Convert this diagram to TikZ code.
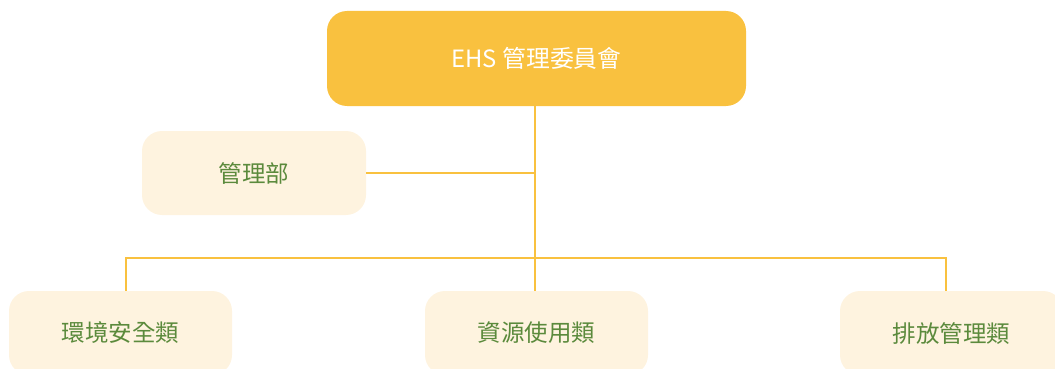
\documentclass[tikz,border=0pt]{standalone}
\usepackage{fontspec}
\setmainfont{Noto Sans CJK TC}
\usepackage{xcolor}
\definecolor{ehsgold}{HTML}{F9C13F}
\definecolor{ehscream}{HTML}{FEF3DF}
\definecolor{ehsgreen}{HTML}{5B8A3C}

\begin{document}
\begin{tikzpicture}[x=1pt,y=-1pt,
  headbox/.style={fill=ehsgold, rounded corners=20pt, minimum width=419pt, minimum height=95pt, text=white, font=\fontsize{23.8}{28}\selectfont},
  unitbox/.style={fill=ehscream, rounded corners=20pt, minimum width=223pt, minimum height=84pt, text=ehsgreen, font=\fontsize{23.5}{28}\selectfont},
  link/.style={draw=ehsgold, line width=1.2pt}]
\useasboundingbox (0,0) rectangle (1055,369);
\clip (0,0) rectangle (1055,369);
\node[headbox] (ehs) at (536.5,58.5) {EHS 管理委員會};
\node[unitbox, minimum width=224pt] (mgmt) at (254,173) {管理部};
\node[unitbox] (env) at (120.5,333) {環境安全類};
\node[unitbox] (res) at (536.5,333) {資源使用類};
\node[unitbox] (emit) at (951.5,333) {排放管理類};
\coordinate (bl) at (126,258);
\coordinate (br) at (946,258);
\draw[link] (ehs.south -| 535,0) -- (res.north -| 535,0);
\draw[link] (mgmt.east) -- (mgmt.east -| 535,0);
\draw[link] (env.north -| bl) -- (bl) -- (br) -- (emit.north -| br);
\end{tikzpicture}
\end{document}
